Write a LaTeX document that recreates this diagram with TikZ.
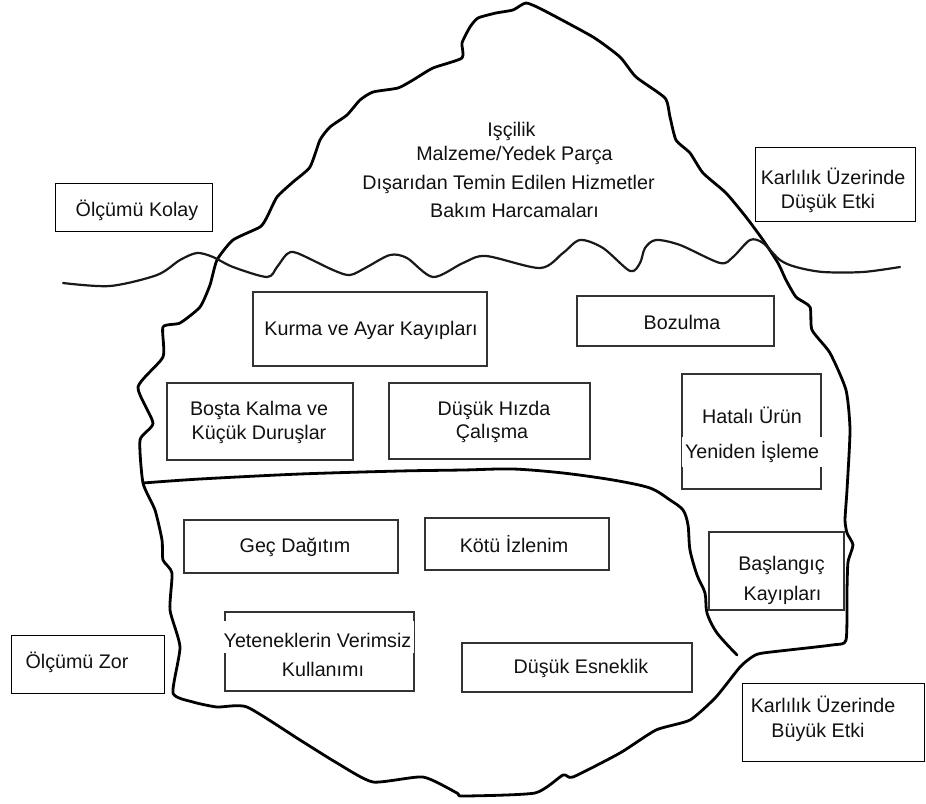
\documentclass[tikz,border=0pt]{standalone}
\usepackage{fontspec}
\setmainfont{Liberation Sans}
\usetikzlibrary{fit}
\definecolor{edge}{HTML}{333333}
\definecolor{ink}{HTML}{111111}
\tikzset{
  berg/.style={line width=2.8pt, draw=black, line join=round, line cap=round},
  water/.style={line width=2.2pt, draw=black!90, line cap=round},
  divider/.style={line width=2.8pt, draw=black, line cap=round},
  ibox/.style={draw=edge, line width=2.2pt, inner sep=0pt},
  obox/.style={draw=black, line width=1pt, inner sep=0pt},
  lbl/.style={anchor=base, inner sep=0pt, text=ink, font=\fontsize{19.7}{24}\selectfont},
  lblw/.style={lbl, fill=white, inner xsep=3pt}
}
\begin{document}
\begin{tikzpicture}[x=1pt, y=-1pt]
\useasboundingbox (0,0) rectangle (926,803);

% iceberg outline
\draw[berg] plot[smooth cycle, tension=0.35] coordinates {
 (526,3) (543,10) (593,37) (620,57) (636,77) (665,98) (670,117) (676,140)
 (690,153) (703,173) (726,193) (746,217) (763,240) (778,263) (786,280)
 (796,297) (810,307) (812,330) (830,353) (846,390) (850,430) (847,490)
 (845,520) (847,533) (853,545) (848,562) (847,590) (846,640) (832,645)
 (763,653) (752,657) (740,667) (716,697) (690,720) (656,730) (620,753)
 (573,777) (563,775) (535,793) (463,796) (457,793) (423,777) (373,782)
 (337,763) (300,740) (247,707) (217,707) (193,702) (173,693) (180,647)
 (170,610) (172,573) (163,560) (162,540) (155,510) (143,483) (140,440)
 (153,423) (138,387) (163,357) (163,327) (180,323) (200,307) (210,285)
 (217,260) (233,240) (260,227) (267,217) (277,197) (293,182) (310,167)
 (320,140) (330,127) (347,115) (360,100) (373,92) (398,88) (413,80)
 (433,68) (462,58) (462,43) (470,27) (478,18) (496,13) (513,10)};

% waterline
\draw[water] plot[smooth, tension=0.5] coordinates {
 (63,283) (110,286) (157,275) (180,260) (197,253) (213,257) (233,267)
 (267,277) (277,267) (287,254) (297,253) (333,270) (350,275) (367,267)
 (390,255) (407,258) (433,277) (463,263) (486,256) (540,268) (563,253)
 (580,240) (603,248) (630,271) (640,263) (645,248) (656,240) (680,245)
 (720,263) (733,257) (750,240) (763,243) (780,260) (796,267) (823,272)
 (863,272) (900,267)};

% boundary of the hard-to-measure zone
\draw[divider] plot[smooth, tension=0.5] coordinates {
 (143,483) (200,479) (300,474) (400,471) (463,470) (513,469) (563,473)
 (613,480) (650,488) (670,500) (683,510) (688,525) (690,550) (697,575)
 (705,593) (707,613) (717,633) (737,655)};

% side labels
\node[obox, fit={(55,183) (212,231)}] (kolay) {};
\node[lbl] (kolayT) at (137,216) {Ölçümü Kolay};

\node[obox, fit={(755,147) (915,221)}] (dusuk) {};
\node[lbl] (dusukT1) at (833,184) {Karlılık Üzerinde};
\node[lbl] (dusukT2) at (828,208) {Düşük Etki};

\node[obox, fit={(11,635) (164,693)}] (zor) {};
\node[lbl] (zorT) at (77,668) {Ölçümü Zor};

\node[obox, fit={(742,683) (924,761)}] (buyuk) {};
\node[lbl] (buyukT1) at (823,712) {Karlılık Üzerinde};
\node[lbl] (buyukT2) at (818,737) {Büyük Etki};

% visible costs
\node[lbl] (tip1) at (511.5,136) {Işçilik};
\node[lbl] (tip2) at (514.5,160) {Malzeme/Yedek Parça};
\node[lbl] (tip3) at (508.5,189) {Dışarıdan Temin Edilen Hizmetler};
\node[lbl] (tip4) at (514.5,217) {Bakım Harcamaları};

% hidden losses
\node[ibox, fit={(253,292) (487,366)}] (kurma) {};
\node[lbl] (kurmaT) at (371,335) {Kurma ve Ayar Kayıpları};

\node[ibox, fit={(577,296) (774,346)}] (bozulma) {};
\node[lbl] (bozulmaT) at (682,329) {Bozulma};

\node[ibox, fit={(167,383) (353,460)}] (bosta) {};
\node[lbl] (bostaT1) at (259,415) {Boşta Kalma ve};
\node[lbl] (bostaT2) at (259,439) {Küçük Duruşlar};

\node[ibox, fit={(389,383) (590,459)}] (hiz) {};
\node[lbl] (hizT1) at (494,415) {Düşük Hızda};
\node[lbl] (hizT2) at (492,438) {Çalışma};

\node[ibox, fit={(682,374) (821,489)}] (hatali) {};
\node[lbl] (hataliT1) at (752,423) {Hatalı Ürün};
\node[lblw, text height=21pt, text depth=9pt] (hataliT2) at (752,458) {Yeniden İşleme};

\node[ibox, fit={(184,520) (398,573)}] (gec) {};
\node[lbl] (gecT) at (295,552) {Geç Dağıtım};

\node[ibox, fit={(425,518) (609,570)}] (kotu) {};
\node[lbl] (kotuT) at (514,552) {Kötü İzlenim};

\node[ibox, fit={(709,532) (844,610)}] (baslangic) {};
\node[lbl] (baslangicT1) at (781.5,570) {Başlangıç};
\node[lbl] (baslangicT2) at (782.5,600) {Kayıpları};

\node[ibox, fit={(225,612) (414,691)}] (yetenek) {};
\node[lblw, text height=26pt, text depth=6pt] (yetenekT1) at (317.5,647) {Yeteneklerin Verimsiz};
\node[lbl] (yetenekT2) at (323,676) {Kullanımı};

\node[ibox, fit={(462,643) (692,692)}] (esneklik) {};
\node[lbl] (esneklikT) at (581,673) {Düşük Esneklik};
\end{tikzpicture}
\end{document}
